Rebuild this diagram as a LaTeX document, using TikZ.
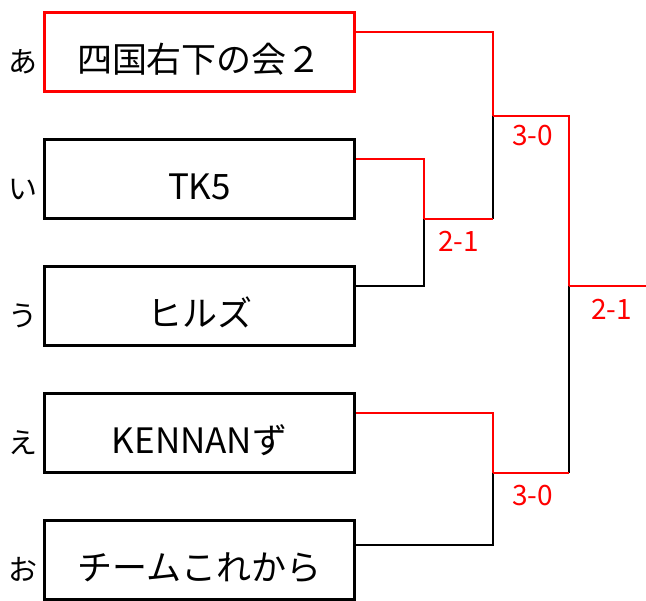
\documentclass[tikz,border=0pt]{standalone}
\usepackage{fontspec}
\setmainfont{Noto Sans CJK JP}
\usetikzlibrary{positioning}

\def\dy{20pt}

\begin{document}
\begin{tikzpicture}[x=1pt,y=-1pt,
	team/.style={draw,line width=3.8pt,minimum width=310pt,minimum height=79pt,
		text height=42pt,text depth=0pt,font=\fontsize{35}{35}\selectfont},
	kana/.style={inner sep=0pt,text height=42pt,text depth=0pt,
		font=\fontsize{29}{29}\selectfont},
	score/.style={inner sep=0pt,anchor=base west,text=red,font=\fontsize{28}{28}\selectfont},
	win/.style={draw=red,line width=1.5pt},
	lose/.style={draw=black,line width=1.5pt}]

\useasboundingbox (0,0) rectangle (646,601);

\node[team,draw=red] (t1) at (199.5,52) {四国右下の会２};
\node[team] (t2) at (199.5,179) {TK5};
\node[team] (t3) at (199.5,306) {ヒルズ};
\node[team] (t4) at (199.5,433) {KENNANず};
\node[team] (t5) at (199.5,560) {チームこれから};

\node[kana,left=5pt of t1] (k1) {あ};
\node[kana,left=5pt of t2] (k2) {い};
\node[kana,left=5pt of t3] (k3) {う};
\node[kana,left=5pt of t4] (k4) {え};
\node[kana,left=5pt of t5] (k5) {お};

\coordinate (j1) at (424,219);
\coordinate (j2) at (493,116);
\coordinate (j3) at (493,473);
\coordinate (j4) at (569,286);
\coordinate (fin) at (646,286);

\draw[lose] ([yshift=\dy]t3.east) -| (j1);
\draw[lose] (j1 -| j2) -- (j2);
\draw[lose] ([yshift=15pt]t5.east) -| (j3);
\draw[lose] (j3 -| j4) -- (j4);

\draw[win] ([yshift=\dy]t1.east) -| (j2);
\draw[win] ([yshift=\dy]t2.east) -| (j1);
\draw[win] (j1) -- (j1 -| j2);
\draw[win] (j2) -| (j4);
\draw[win] ([yshift=\dy]t4.east) -| (j3);
\draw[win] (j3) -- (j3 -| j4);
\draw[win] (j4) -- (fin);

\node[score] (s1) at ([xshift=14pt,yshift=-33pt]j1) {2-1};
\node[score] (s2) at ([xshift=19pt,yshift=-30pt]j2) {3-0};
\node[score] (s3) at ([xshift=22pt,yshift=-34pt]j4) {2-1};
\node[score] (s4) at ([xshift=19pt,yshift=-33pt]j3) {3-0};

\end{tikzpicture}
\end{document}
